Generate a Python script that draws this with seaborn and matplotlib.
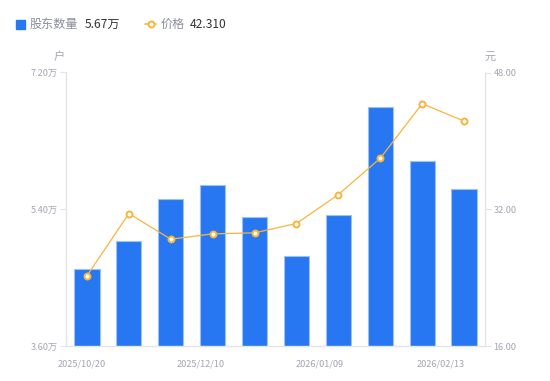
import numpy as np
import pandas as pd
import matplotlib
matplotlib.use('Agg')
import matplotlib.pyplot as plt
import seaborn as sns
from matplotlib.lines import Line2D

# --- Dados ---
holders = [4.61, 4.98, 5.53, 5.72, 5.30, 4.79, 5.33, 6.75, 6.04, 5.67]   # 万户
price = [24.21, 31.50, 28.50, 29.12, 29.24, 30.33, 33.72, 37.96, 44.35, 42.31]  # 元
tick_labels = ['2025/10/20', '2025/12/10', '2026/01/09', '2026/02/13']
tick_pos = [-0.12, 2.72, 5.56, 8.43]
left_ticks = [3.60, 5.40, 7.20]
right_ticks = [16.00, 32.00, 48.00]

sns.set_theme(style='white')
plt.rcParams['font.family'] = ['Noto Sans CJK SC', 'DejaVu Sans']

blue = '#2777f2'
orange = '#f7b53b'
grey_txt = '#a3a5b3'
axis_col = '#e3e5ea'

df = pd.DataFrame({'idx': range(len(holders)), 'holders': holders, 'price': price})

fig = plt.figure(figsize=(5.5, 3.81), dpi=100)
ax = fig.add_axes([66 / 550, 35 / 381, 419 / 550, 273.5 / 381])

sns.barplot(data=df, x='idx', y='holders', color=blue, saturation=1, width=0.6,
            edgecolor='#9cc0f8', linewidth=0.8, ax=ax)
ax.set_ylim(3.60, 7.20)
ax.set_xlim(-0.5, len(holders) - 0.5)
ax.set_yticks(left_ticks)
ax.set_yticklabels([f'{v:.2f}万' for v in left_ticks])
ax.set_xticks(tick_pos)
ax.set_xticklabels(tick_labels)
ax.set_xlabel('')
ax.set_ylabel('')

ax2 = ax.twinx()
sns.lineplot(data=df, x='idx', y='price', color=orange, linewidth=0.9,
             marker='o', markersize=4.3, markerfacecolor='white',
             markeredgecolor=orange, markeredgewidth=1.4, ax=ax2)
ax2.set_ylim(16, 48)
ax2.set_yticks(right_ticks)
ax2.set_yticklabels([f'{v:.2f}' for v in right_ticks])
ax2.set_xlim(-0.5, len(holders) - 0.5)
ax2.set_xlabel('')
ax2.set_ylabel('')

for a in (ax, ax2):
    for s in a.spines.values():
        s.set_visible(False)
    a.grid(False)
ax.spines['left'].set_visible(True)
ax.spines['bottom'].set_visible(True)
ax2.spines['right'].set_visible(True)
for s in (ax.spines['left'], ax.spines['bottom'], ax2.spines['right']):
    s.set_color(axis_col)
    s.set_linewidth(1)

ax.tick_params(axis='y', left=True, length=4, width=0.8, color=axis_col,
               labelsize=6.6, labelcolor=grey_txt, pad=2)
ax.tick_params(axis='x', bottom=False, labelsize=6.6, labelcolor=grey_txt, pad=4)
ax2.tick_params(axis='y', right=True, length=4, width=0.8, color=axis_col,
                labelsize=6.6, labelcolor=grey_txt, pad=2)

# unidades
fig.text(59 / 550, 1 - 57 / 381, '户', fontsize=8, color=grey_txt, ha='center', va='center')
fig.text(490 / 550, 1 - 57 / 381, '元', fontsize=8, color=grey_txt, ha='center', va='center')

# legenda
ly = 1 - 24 / 381
fig.patches.append(plt.Rectangle((16 / 550, 1 - 29 / 381), 9 / 550, 9 / 381,
                                 transform=fig.transFigure, color=blue, figure=fig))
fig.text(30 / 550, ly, '股东数量', fontsize=8.7, color='#8b8e9c', va='center')
fig.text(85 / 550, ly, f'{holders[-1]:.2f}万', fontsize=8.7, color='#333333', va='center')
fig.lines.append(Line2D([145 / 550, 150.5 / 550, 156 / 550], [ly, ly, ly],
                        transform=fig.transFigure, color=orange, linewidth=1.2,
                        marker='o', markersize=4.3, markevery=[1],
                        markerfacecolor='white', markeredgecolor=orange,
                        markeredgewidth=1.4, figure=fig))
fig.text(161 / 550, ly, '价格', fontsize=8.7, color='#8b8e9c', va='center')
fig.text(190 / 550, ly, f'{price[-1]:.3f}', fontsize=8.7, color='#333333', va='center')

plt.savefig('out.png', dpi=100)
